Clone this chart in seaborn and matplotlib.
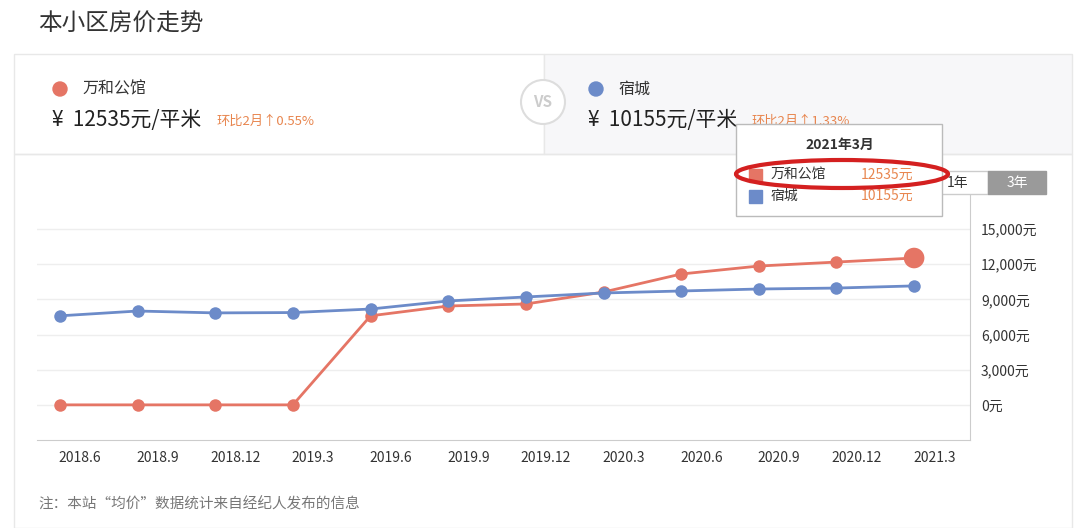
import matplotlib
matplotlib.use("Agg")
import matplotlib.pyplot as plt
import seaborn as sns
import pandas as pd
from matplotlib.patches import Rectangle, Circle, Ellipse, FancyBboxPatch

plt.rcParams["font.family"] = ["Noto Sans CJK SC", "DejaVu Sans"]

tick_labels = ["2018.6", "2018.9", "2018.12", "2019.3", "2019.6", "2019.9",
               "2019.12", "2020.3", "2020.6", "2020.9", "2020.12", "2021.3"]
wanhe = [0, 0, 0, 0, 7600, 8440, 8610, 9630, 11170, 11850, 12190, 12535]
sucheng = [7600, 8010, 7850, 7880, 8180, 8870, 9210, 9550, 9720, 9890, 9970, 10155]
yticks = [0, 3000, 6000, 9000, 12000, 15000]
RED = "#e57565"
BLUE = "#6c8bc9"

n = len(wanhe)
df = pd.DataFrame({"i": list(range(n)) * 2,
                   "v": wanhe + sucheng,
                   "s": ["万和公馆"] * n + ["宿城"] * n})

W, H = 1080, 528
fig = plt.figure(figsize=(10.8, 5.28), dpi=100)
fig.patch.set_facecolor("white")

def fx(x): return x / W
def fy(y): return 1 - y / H

# header panels
fig.patches.append(Rectangle((fx(14), fy(154)), fx(530), 100 / H, transform=fig.transFigure,
                             facecolor="white", edgecolor="#e8e8e8", lw=1))
fig.patches.append(Rectangle((fx(544), fy(154)), fx(528), 100 / H, transform=fig.transFigure,
                             facecolor="#f7f7f9", edgecolor="#e8e8e8", lw=1))
fig.patches.append(Rectangle((fx(14), fy(528)), fx(1058), 374 / H, transform=fig.transFigure,
                             facecolor="none", edgecolor="#e8e8e8", lw=1))
fig.text(fx(38), fy(24), "本小区房价走势", fontsize=17, color="#333333", va="center")
fig.patches.append(Ellipse((fx(60), fy(89)), 14 / W, 14 / H, transform=fig.transFigure, color=RED))
fig.text(fx(82), fy(89), "万和公馆", fontsize=11.5, color="#333", va="center")
fig.text(fx(52), fy(120), "¥  12535元/平米", fontsize=15, color="#222", va="center")
fig.text(fx(217), fy(121), "环比2月↑0.55%", fontsize=9.5, color="#e8864f", va="center")
fig.patches.append(Ellipse((fx(596), fy(89)), 14 / W, 14 / H, transform=fig.transFigure, color=BLUE))
fig.text(fx(618), fy(89), "宿城", fontsize=11.5, color="#333", va="center")
fig.text(fx(588), fy(120), "¥  10155元/平米", fontsize=15, color="#222", va="center")
fig.text(fx(752), fy(121), "环比2月↑1.33%", fontsize=9.5, color="#e8864f", va="center")
fig.patches.append(Ellipse((fx(543), fy(102)), 44 / W, 44 / H, transform=fig.transFigure,
                           facecolor="white", edgecolor="#dddddd", lw=1.5))
fig.text(fx(543), fy(102), "VS", fontsize=11, color="#cccccc", ha="center", va="center", weight="bold")

# buttons
fig.patches.append(Rectangle((fx(940), fy(194)), fx(48), 23 / H, transform=fig.transFigure,
                             facecolor="white", edgecolor="#cccccc", lw=1))
fig.text(fx(958), fy(183), "1年", fontsize=10, color="#333", ha="center", va="center")
fig.patches.append(Rectangle((fx(988), fy(194)), fx(58), 23 / H, transform=fig.transFigure,
                             facecolor="#9a9a9a", edgecolor="#9a9a9a", lw=1))
fig.text(fx(1017), fy(183), "3年", fontsize=10, color="white", ha="center", va="center")

# chart
ax = fig.add_axes([fx(37), fy(440), fx(970 - 37), (440 - 194) / H])
ax.set_facecolor("white")
sns.lineplot(data=df, x="i", y="v", hue="s", palette=[RED, BLUE], marker="o",
             markersize=9, markeredgewidth=0, lw=2, legend=False, ax=ax, zorder=3)
ax.scatter([n - 1], [wanhe[-1]], s=220, color=RED, zorder=4, edgecolor="none")
ax.set_xlim(-0.296, 11.72)
ax.set_ylim(-3000, 18000)
ax.set_xticks([i + 0.26 for i in range(n)])
ax.set_xticklabels(tick_labels, fontsize=10, color="#333")
ax.set_yticks(yticks)
ax.set_yticklabels([f"{v:,}元" for v in yticks], fontsize=10, color="#333")
ax.yaxis.tick_right()
ax.tick_params(axis="both", length=0, pad=8)
ax.grid(axis="y", color="#eeeeee", lw=1)
ax.set_xlabel(""); ax.set_ylabel("")
for s in ["top", "left"]:
    ax.spines[s].set_visible(False)
ax.spines["bottom"].set_color("#cccccc")
ax.spines["right"].set_color("#cccccc")

fig.text(fx(38), fy(504), "注：本站“均价”数据统计来自经纪人发布的信息", fontsize=10.5, color="#777", va="center")

# tooltip
fig.patches.append(FancyBboxPatch((fx(736), fy(216)), fx(206), 92 / H, boxstyle="square,pad=0",
                                  transform=fig.transFigure, facecolor="white", edgecolor="#bbbbbb", lw=1, zorder=10))
fig.text(fx(840), fy(145), "2021年3月", fontsize=10, weight="bold", color="#333", ha="center", va="center", zorder=11)
fig.patches.append(Rectangle((fx(749), fy(182)), fx(13), 13 / H, transform=fig.transFigure, color=RED, zorder=11))
fig.text(fx(771), fy(175), "万和公馆", fontsize=10, color="#333", va="center", zorder=11)
fig.text(fx(861), fy(175), "12535元", fontsize=10, color="#e8864f", va="center", zorder=11)
fig.patches.append(Rectangle((fx(749), fy(203)), fx(13), 13 / H, transform=fig.transFigure, color=BLUE, zorder=11))
fig.text(fx(771), fy(196), "宿城", fontsize=10, color="#333", va="center", zorder=11)
fig.text(fx(861), fy(196), "10155元", fontsize=10, color="#e8864f", va="center", zorder=11)
fig.patches.append(Ellipse((fx(842), fy(174)), 212 / W, 28 / H, transform=fig.transFigure,
                           facecolor="none", edgecolor="#d42020", lw=3, zorder=12))

fig.savefig("out.png", dpi=100)
